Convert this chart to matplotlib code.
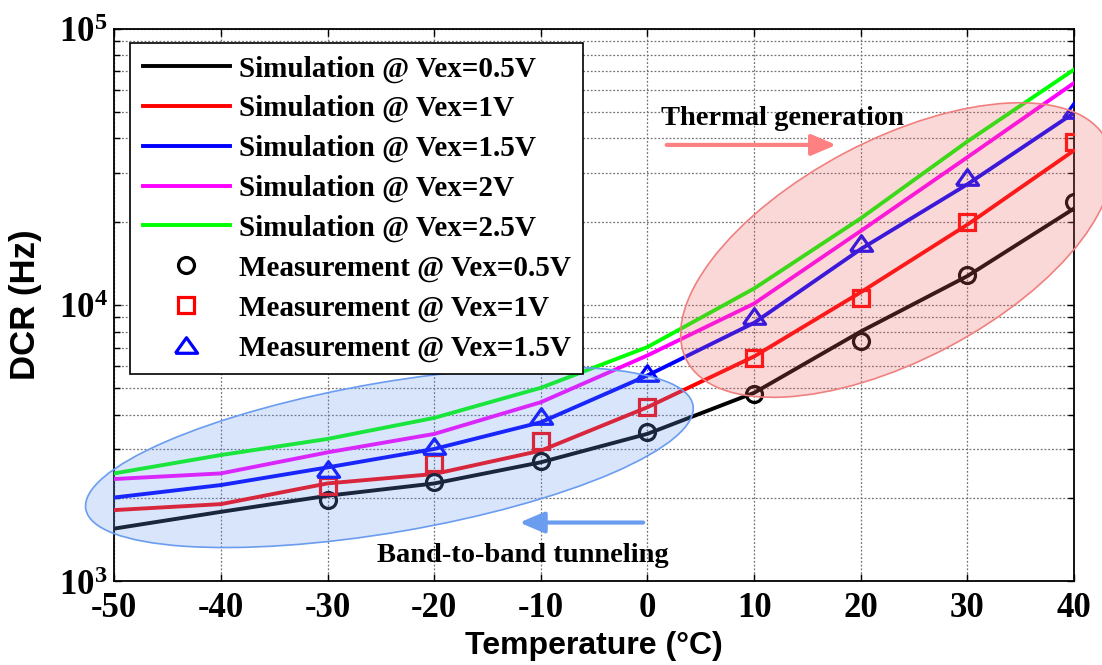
import matplotlib
matplotlib.use("Agg")
import matplotlib.pyplot as plt
from matplotlib.patches import Ellipse
from matplotlib.transforms import ScaledTranslation
from matplotlib.ticker import FixedLocator, FixedFormatter, NullFormatter, LogLocator

plt.rcParams["mathtext.fontset"] = "custom"
plt.rcParams["mathtext.rm"] = "Liberation Serif:bold"
plt.rcParams["mathtext.bf"] = "Liberation Serif:bold"
plt.rcParams["mathtext.it"] = "Liberation Serif:bold"

# temperature sweep (°C)
temps = [-50, -40, -30, -20, -10, 0, 10, 20, 30, 40]

# simulated DCR (Hz) for each excess bias
sim_05 = [1548, 1780, 2035, 2255, 2690, 3410, 4800, 8000, 12700, 22300]
sim_10 = [1806, 1898, 2256, 2440, 2964, 4257, 6500, 11100, 19500, 36200]
sim_15 = [2006, 2225, 2578, 3006, 3756, 5548, 8600, 15900, 27300, 49500]
sim_20 = [2340, 2452, 2922, 3407, 4438, 6556, 10100, 18500, 34200, 63500]
sim_25 = [2452, 2858, 3268, 3895, 5004, 7030, 11450, 20550, 39000, 71000]

# measured DCR (Hz)
meas_temps = [-30, -20, -10, 0, 10, 20, 30, 40]
meas_05 = [1963, 2274, 2727, 3474, 4770, 7390, 12800, 23600]
meas_10 = [2213, 2666, 3223, 4281, 6410, 10620, 19980, 38800]
meas_15 = [2545, 3090, 3971, 5656, 9080, 16750, 28950, 50800]

SERIF = dict(family="Liberation Serif", weight="bold")
SANS = dict(family="Liberation Sans", weight="bold")

fig = plt.figure(figsize=(11.02, 6.65), dpi=100)
ax = fig.add_axes([0.1037, 0.1263, 0.8709, 0.8308])

lw = 2.8
ax.plot(temps, sim_05, color="black", lw=lw, label="Simulation @ Vex=0.5V", zorder=3)
ax.plot(temps, sim_10, color="red", lw=lw, label="Simulation @ Vex=1V", zorder=3)
ax.plot(temps, sim_15, color="blue", lw=lw, label="Simulation @ Vex=1.5V", zorder=3)
ax.plot(temps, sim_20, color="magenta", lw=lw, label="Simulation @ Vex=2V", zorder=3)
ax.plot(temps, sim_25, color="#00ff00", lw=lw, label="Simulation @ Vex=2.5V", zorder=3)

# wide, flat triangle like the MATLAB one
tri = [(-1, -0.7), (1, -0.7), (0, 0.7), (-1, -0.7)]
mk = dict(ls="none", mfc="none", mew=2.3, zorder=4)
ax.plot(meas_temps, meas_05, marker="o", ms=11.5, mec="black",
        label="Measurement @ Vex=0.5V", **mk)
ax.plot(meas_temps, meas_10, marker="s", ms=12, mec="red",
        label="Measurement @ Vex=1V", **mk)
ax.plot(meas_temps, meas_15, marker=tri, ms=16, mec="blue",
        label="Measurement @ Vex=1.5V", **mk)


def add_region(center, w, h, angle, face, edge):
    # size in inches, centre in data coordinates
    trans = fig.dpi_scale_trans + ScaledTranslation(center[0], center[1], ax.transData)
    e = Ellipse((0, 0), w, h, angle=angle, transform=trans, facecolor=face,
                edgecolor=edge, lw=1.2, zorder=5, clip_on=False)
    ax.add_patch(e)


add_region((-24.2, 2806), 6.16, 1.50, 9.7, (0.40, 0.60, 0.95, 0.25), "#6a9cf0")
add_region((23.35, 15780), 4.74, 2.20, 27.8, (0.95, 0.40, 0.40, 0.25), "#f08080")

ax.annotate("", xy=(17.7, 37900), xytext=(1.8, 37900),
            arrowprops=dict(arrowstyle="-|>,head_length=0.75,head_width=0.32",
                            color="#ff8080", lw=3, shrinkA=0, shrinkB=0,
                            mutation_scale=20), zorder=6)
ax.text(12.7, 44800, "Thermal generation", ha="center", va="baseline",
        fontsize=20.5, zorder=6, **SERIF)

ax.annotate("", xy=(-12.0, 1628), xytext=(-0.4, 1628),
            arrowprops=dict(arrowstyle="-|>,head_length=0.75,head_width=0.32",
                            color="#6a9cf0", lw=3, shrinkA=0, shrinkB=0,
                            mutation_scale=20), zorder=6)
ax.text(-11.7, 1175, "Band-to-band tunneling", ha="center", va="baseline",
        fontsize=20.5, zorder=6, **SERIF)

ax.set_yscale("log")
ax.set_xlim(-50, 40)
ax.set_ylim(1e3, 1e5)

ax.xaxis.set_major_locator(FixedLocator(temps))
ax.set_xticklabels([str(t) for t in temps], fontsize=25, **SERIF)
ax.yaxis.set_major_locator(FixedLocator([1e3, 1e4, 1e5]))
ax.yaxis.set_major_formatter(FixedFormatter([r"$\mathbf{10^{3}}$", r"$\mathbf{10^{4}}$",
                                             r"$\mathbf{10^{5}}$"]))
ax.yaxis.set_minor_locator(LogLocator(base=10, subs=range(2, 10)))
ax.yaxis.set_minor_formatter(NullFormatter())
for lab in ax.get_yticklabels():
    lab.set_fontsize(25)

ax.tick_params(which="both", direction="in", top=True, right=True, width=1)
ax.tick_params(which="major", length=5)
ax.tick_params(which="minor", length=4)
ax.tick_params(axis="x", pad=8)
ax.tick_params(axis="y", pad=5)

ax.grid(True, which="major", axis="x", color="0.45", ls=(0, (1.5, 1.5)), lw=0.9)
ax.grid(True, which="both", axis="y", color="0.45", ls=(0, (1.5, 1.5)), lw=0.9)
ax.set_axisbelow(True)
for s in ax.spines.values():
    s.set_linewidth(1.3)

ax.set_xlabel("Temperature (°C)", fontsize=23, labelpad=4, **SANS)
ax.set_ylabel("DCR (Hz)", fontsize=25, labelpad=12, **SANS)

leg = ax.legend(loc="upper left", bbox_to_anchor=(0.0169, 0.9738), borderaxespad=0,
                prop=dict(size=21, **SERIF), frameon=True, fancybox=False,
                framealpha=1, edgecolor="black", handlelength=3.0,
                handletextpad=0.3, labelspacing=0.43, borderpad=0.42)
leg.get_frame().set_linewidth(1.2)
leg.set_zorder(10)

fig.savefig("out.png", dpi=100)
